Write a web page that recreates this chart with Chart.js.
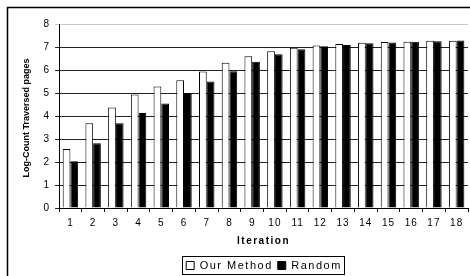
<!DOCTYPE html>
<html>
<head>
<meta charset="utf-8">
<script src="https://cdn.jsdelivr.net/npm/chart.js@4/dist/chart.umd.min.js"></script>
<style>
html,body{margin:0;padding:0;background:#fff;}
#wrap{width:470px;height:276px;}
</style>
</head>
<body>
<div id="wrap"><canvas id="c" width="470" height="276"></canvas></div>
<script>
const categories = ["1","2","3","4","5","6","7","8","9","10","11","12","13","14","15","16","17","18"];
const ourMethod = [2.56,3.69,4.37,4.93,5.28,5.55,5.94,6.32,6.6,6.81,6.97,7.07,7.13,7.18,7.22,7.23,7.27,7.27];
const randomVals = [2.03,2.82,3.69,4.13,4.54,5.0,5.5,5.95,6.36,6.68,6.9,7.03,7.09,7.16,7.2,7.23,7.25,7.28];
const yTicks = [0,1,2,3,4,5,6,7,8];
const seriesNames = ["Our Method","Random"];
const xTitle = "Iteration";
const yTitle = "Log-Count Traversed pages";

const FONT = "'Liberation Sans', Arial, sans-serif";

const framePlugin = {
  id: 'frame',
  beforeLayout(chart) { chart.ctx.letterSpacing = '1.5px'; },
  afterLayout(chart) {
    if (chart.legend) { chart.legend.left += 11; chart.legend.right += 11; }
  },
  beforeDraw(chart) {
    const ctx = chart.ctx;
    ctx.save();
    ctx.fillStyle = '#fff';
    ctx.fillRect(0, 0, chart.width, chart.height);
    ctx.strokeStyle = '#000';
    ctx.lineWidth = 1.5;
    ctx.beginPath();
    ctx.moveTo(7.5, chart.height + 2);
    ctx.lineTo(7.5, 7.5);
    ctx.lineTo(chart.width + 2, 7.5);
    ctx.stroke();
    ctx.restore();
    ctx.letterSpacing = '1.5px';
  },
  afterDatasetsDraw(chart) { chart.ctx.letterSpacing = '1px'; },
  afterDraw(chart) {
    const ctx = chart.ctx;
    ctx.letterSpacing = '0px';
    // y axis title
    const area = chart.chartArea;
    ctx.save();
    ctx.translate(27, (area.top + area.bottom) / 2 + 2);
    ctx.rotate(-Math.PI / 2);
    ctx.font = "bold 9px " + FONT;
    ctx.fillStyle = '#000';
    ctx.textAlign = 'center';
    ctx.textBaseline = 'middle';
    ctx.fillText(yTitle, 0, 0);
    ctx.restore();
    // legend border
    const boxes = chart.legend && chart.legend.legendHitBoxes;
    if (!boxes || !boxes.length) return;
    let l = Infinity, r = -Infinity, t = Infinity, b = -Infinity;
    boxes.forEach(h => { l = Math.min(l, h.left); r = Math.max(r, h.left + h.width); t = Math.min(t, h.top); b = Math.max(b, h.top + h.height); });
    ctx.save();
    ctx.strokeStyle = '#000';
    ctx.lineWidth = 1;
    ctx.strokeRect(Math.round(l - 4) + 0.5, Math.round(t - 4) + 0.5, Math.round(r - l + 6), Math.round(b - t + 7));
    ctx.restore();
  }
};

new Chart(document.getElementById('c'), {
  type: 'bar',
  data: {
    labels: categories,
    datasets: [
      { label: seriesNames[0], data: ourMethod, backgroundColor: '#fff', borderColor: '#000', borderWidth: 1 },
      { label: seriesNames[1], data: randomVals, backgroundColor: '#000', borderColor: '#000', borderWidth: 1 }
    ]
  },
  plugins: [framePlugin],
  options: {
    responsive: false,
    animation: false,
    devicePixelRatio: 1,
    datasets: { bar: { categoryPercentage: 0.68, barPercentage: 1.0 } },
    layout: { padding: { left: 38, right: 2, top: 24, bottom: -5 } },
    plugins: {
      legend: {
        position: 'bottom',
        labels: {
          font: { family: FONT, size: 11 },
          color: '#000',
          boxWidth: 8,
          boxHeight: 8,
          padding: 5,
          generateLabels(chart) {
            return chart.data.datasets.map((ds, i) => ({
              text: ds.label,
              fillStyle: ds.backgroundColor,
              strokeStyle: '#000',
              lineWidth: 1,
              hidden: false,
              datasetIndex: i,
              fontColor: '#000'
            }));
          }
        }
      },
      tooltip: { enabled: false }
    },
    scales: {
      x: {
        offset: true,
        grid: { display: true, drawOnChartArea: false, drawTicks: true, tickLength: 4, color: '#000', offset: true },
        border: { display: true, color: '#000', width: 1 },
        ticks: { font: { family: FONT, size: 10 }, color: '#000', padding: 5, maxRotation: 0, autoSkip: false, z: 1 },
        title: { display: true, text: xTitle, font: { family: FONT, size: 10, weight: 'bold' }, color: '#000', padding: { top: 1, bottom: 8 } }
      },
      y: {
        min: 0, max: 8,
        afterBuildTicks(axis) { axis.ticks = yTicks.map(v => ({ value: v })); },
        grid: {
          color: ctx => (ctx.tick && ctx.tick.value === 8) ? '#c8c8c8' : '#222',
          lineWidth: 1,
          tickLength: 4,
          drawTicks: true
        },
        border: { display: true, color: '#000', width: 1 },
        ticks: { font: { family: FONT, size: 10 }, color: '#000', padding: 5, z: 1 },
        title: { display: false, text: yTitle }
      }
    }
  }
});
</script>
</body>
</html>
